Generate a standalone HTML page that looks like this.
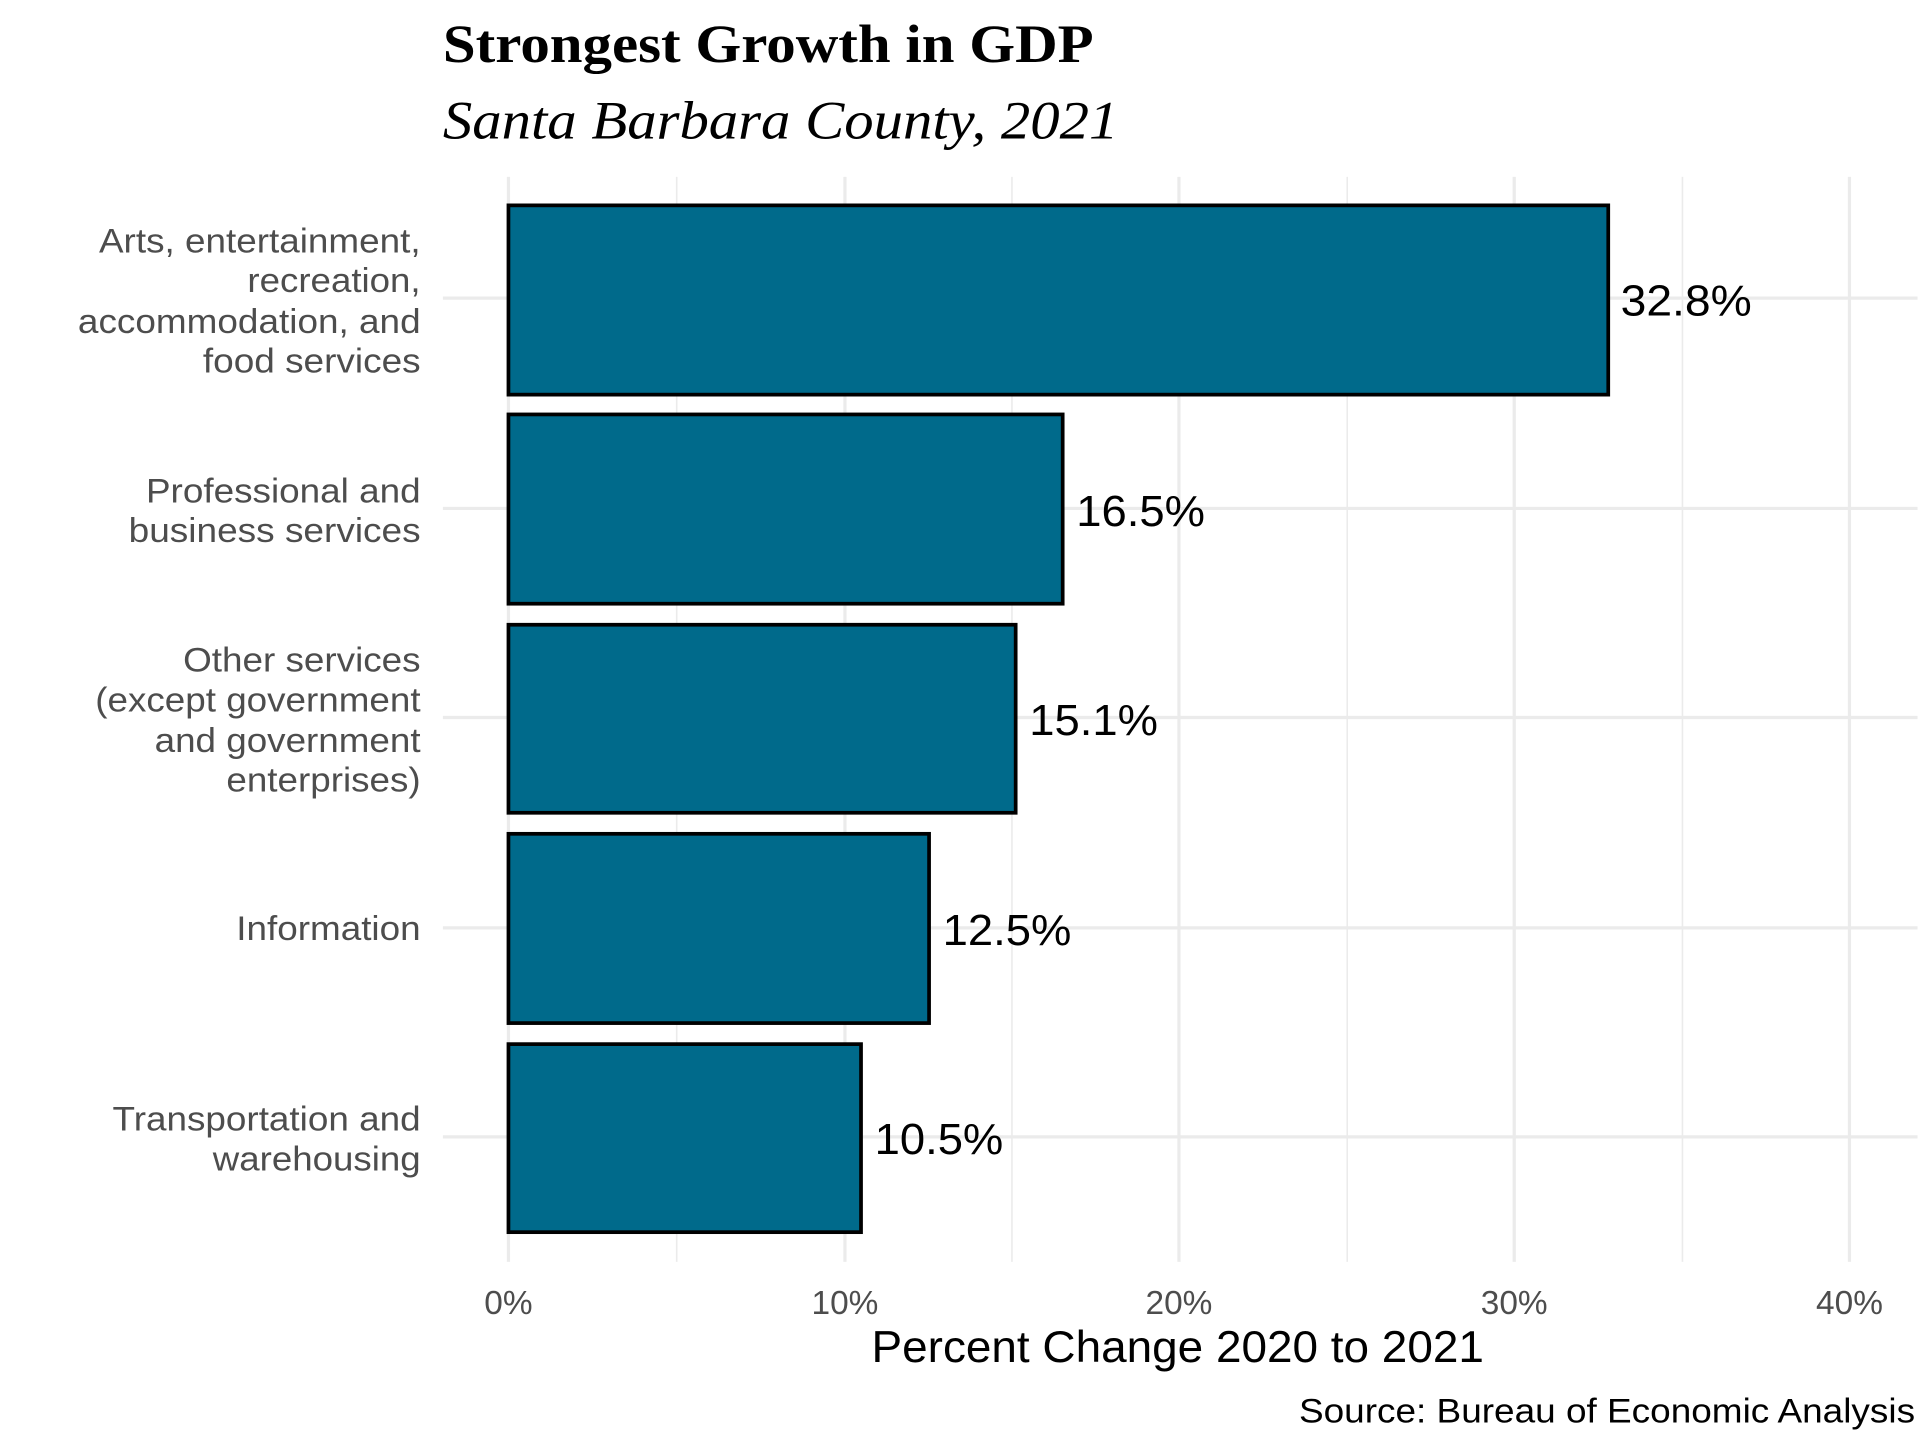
<!DOCTYPE html>
<html><head><meta charset="utf-8"><style>html,body{margin:0;padding:0;background:#fff}svg{display:block}</style></head>
<body>
<svg width="1920" height="1440" viewBox="0 0 1552 1164" xmlns="http://www.w3.org/2000/svg">
<rect width="1552" height="1164" fill="#fff"/>
<text x="358" y="50" font-family="Liberation Serif, serif" font-weight="bold" font-size="44" fill="#000" textLength="526" lengthAdjust="spacingAndGlyphs">Strongest Growth in GDP</text>
<text x="358" y="112" font-family="Liberation Serif, serif" font-style="italic" font-size="44" fill="#000" textLength="546" lengthAdjust="spacingAndGlyphs">Santa Barbara County, 2021</text>
<g stroke="#ebebeb" stroke-width="1.3">
<line x1="547" y1="143" x2="547" y2="1020"/><line x1="818" y1="143" x2="818" y2="1020"/><line x1="1089" y1="143" x2="1089" y2="1020"/><line x1="1360" y1="143" x2="1360" y2="1020"/>
</g>
<g stroke="#ebebeb" stroke-width="2.6">
<line x1="411" y1="143" x2="411" y2="1020"/><line x1="683" y1="143" x2="683" y2="1020"/><line x1="953" y1="143" x2="953" y2="1020"/><line x1="1224" y1="143" x2="1224" y2="1020"/><line x1="1495" y1="143" x2="1495" y2="1020"/>
<line x1="358" y1="241" x2="1550" y2="241"/><line x1="358" y1="411" x2="1550" y2="411"/><line x1="358" y1="580" x2="1550" y2="580"/><line x1="358" y1="750" x2="1550" y2="750"/><line x1="358" y1="919" x2="1550" y2="919"/>
</g>
<g fill="#006a8b" stroke="#000" stroke-width="3">
<rect x="411" y="166" width="889" height="153"/>
<rect x="411" y="335" width="448" height="153"/>
<rect x="411" y="505" width="410" height="152"/>
<rect x="411" y="674" width="340" height="153"/>
<rect x="411" y="844" width="285" height="152"/>
</g>
<g font-family="Liberation Sans, sans-serif" font-size="35" fill="#000" lengthAdjust="spacingAndGlyphs">
<text x="1310" y="255" textLength="106" lengthAdjust="spacingAndGlyphs">32.8%</text>
<text x="870" y="425" textLength="104" lengthAdjust="spacingAndGlyphs">16.5%</text>
<text x="832" y="594" textLength="104" lengthAdjust="spacingAndGlyphs">15.1%</text>
<text x="762" y="764" textLength="104" lengthAdjust="spacingAndGlyphs">12.5%</text>
<text x="707" y="933" textLength="104" lengthAdjust="spacingAndGlyphs">10.5%</text>
</g>
<g font-family="Liberation Sans, sans-serif" font-size="28" fill="#4d4d4d" text-anchor="end">
<text x="340" y="204" textLength="260" lengthAdjust="spacingAndGlyphs">Arts, entertainment,</text>
<text x="340" y="236" textLength="140" lengthAdjust="spacingAndGlyphs">recreation,</text>
<text x="340" y="269" textLength="277" lengthAdjust="spacingAndGlyphs">accommodation, and</text>
<text x="340" y="301" textLength="176" lengthAdjust="spacingAndGlyphs">food services</text>
<text x="340" y="406" textLength="222" lengthAdjust="spacingAndGlyphs">Professional and</text>
<text x="340" y="438" textLength="236" lengthAdjust="spacingAndGlyphs">business services</text>
<text x="340" y="543" textLength="192" lengthAdjust="spacingAndGlyphs">Other services</text>
<text x="340" y="575" textLength="263" lengthAdjust="spacingAndGlyphs">(except government</text>
<text x="340" y="608" textLength="215" lengthAdjust="spacingAndGlyphs">and government</text>
<text x="340" y="640" textLength="157" lengthAdjust="spacingAndGlyphs">enterprises)</text>
<text x="340" y="760" textLength="149" lengthAdjust="spacingAndGlyphs">Information</text>
<text x="340" y="914" textLength="249" lengthAdjust="spacingAndGlyphs">Transportation and</text>
<text x="340" y="946" textLength="168" lengthAdjust="spacingAndGlyphs">warehousing</text>
</g>
<g font-family="Liberation Sans, sans-serif" font-size="27" fill="#4d4d4d" text-anchor="middle">
<text x="411" y="1062">0%</text><text x="683" y="1062">10%</text><text x="953" y="1062">20%</text><text x="1224" y="1062">30%</text><text x="1495" y="1062">40%</text>
</g>
<text x="952" y="1101" font-family="Liberation Sans, sans-serif" font-size="36" fill="#000" text-anchor="middle" textLength="495" lengthAdjust="spacingAndGlyphs">Percent Change 2020 to 2021</text>
<text x="1548" y="1150" font-family="Liberation Sans, sans-serif" font-size="28" fill="#000" text-anchor="end" textLength="498" lengthAdjust="spacingAndGlyphs">Source: Bureau of Economic Analysis</text>
</svg>
</body></html>
